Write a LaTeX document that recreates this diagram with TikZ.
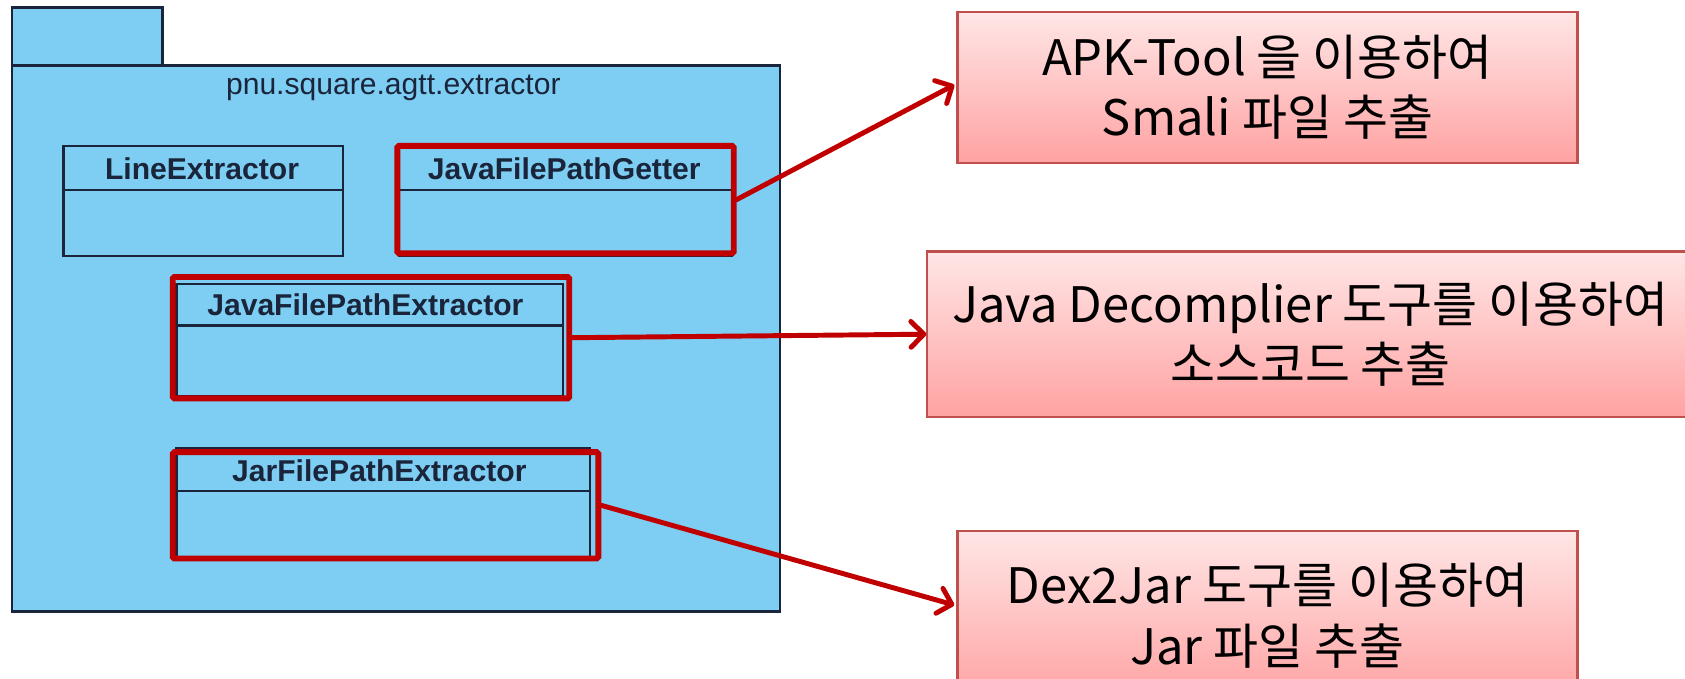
\documentclass[tikz,border=0pt]{standalone}
\usepackage{fontspec}
\setmainfont{Liberation Sans}
\newfontfamily\kr{Noto Sans CJK KR}
\usetikzlibrary{arrows.meta}
\definecolor{pkgblue}{RGB}{125,206,242}
\definecolor{navy}{RGB}{26,36,58}
\definecolor{hl}{RGB}{192,0,0}
\definecolor{pinkline}{RGB}{192,80,77}
\definecolor{pinktop}{RGB}{255,230,230}
\definecolor{pinkbot}{RGB}{255,162,162}
\tikzset{
  pkgshape/.style={rectangle, draw=navy, line width=2.2pt, fill=pkgblue, inner sep=0pt, anchor=north west},
  umlclass/.style={rectangle, draw=navy, line width=2.2pt, inner sep=0pt, anchor=north west},
  clsname/.style={font=\bfseries\fontsize{28}{32}\selectfont, text=navy, inner sep=0pt},
  divider/.style={draw=navy, line width=2.2pt},
  hlbox/.style={rectangle, draw=hl, line width=5.5pt, rounded corners=1.5pt, inner sep=0pt, anchor=north west},
  tipbox/.style={rectangle, draw=pinkline, line width=2pt, top color=pinktop, bottom color=pinkbot, inner sep=0pt, anchor=north west, align=center, font=\kr\fontsize{45.5}{56}\selectfont, text=black},
  hlarrow/.style={draw=hl, line width=4.6pt, line cap=round, -{Straight Barb[length=12pt,width=24pt,line cap=round,line join=round]}}
}
\begin{document}
\begin{tikzpicture}[x=1pt,y=-1pt]
\useasboundingbox (0,0) rectangle (1568,631);
% package
\node[pkgshape, minimum width=140, minimum height=54] (tab) at (10,6) {};
\node[pkgshape, minimum width=715, minimum height=508] (pkg) at (10,60) {};
\node[font=\fontsize{28}{32}\selectfont, text=navy, inner sep=0pt] (pkgname) at (366,82) {pnu.square.agtt.extractor};
% classes
\node[umlclass, minimum width=260, minimum height=102] (le) at (58,135) {};
\draw[divider] (le.west |- 0,177) -- (le.east |- 0,177);
\node[clsname] (leN) at (188,157) {LineExtractor};

\node[umlclass, minimum width=310, minimum height=102] (jfpg) at (370,135) {};
\draw[divider] (jfpg.west |- 0,177) -- (jfpg.east |- 0,177);
\node[clsname] (jfpgN) at (525,157) {JavaFilePathGetter};

\node[umlclass, minimum width=360, minimum height=105] (jfpe) at (163,263) {};
\draw[divider] (jfpe.west |- 0,303) -- (jfpe.east |- 0,303);
\node[clsname] (jfpeN) at (340,284) {JavaFilePathExtractor};

\node[umlclass, minimum width=385, minimum height=103] (jar) at (163,416) {};
\draw[divider] (jar.west |- 0,457) -- (jar.east |- 0,457);
\node[clsname] (jarN) at (353,438) {JarFilePathExtractor};
% highlights
\node[hlbox, minimum width=313, minimum height=100] (jfpgR) at (367,133) {};
\node[hlbox, minimum width=369, minimum height=113] (jfpeR) at (158,255) {};
\node[hlbox, minimum width=396, minimum height=99] (jarR) at (158,418) {};
% tool boxes
\node[tipbox, minimum width=577, minimum height=141] (apk) at (890,10) {APK-Tool 을 이용하여\\Smali 파일 추출};
\node[tipbox, minimum width=713, minimum height=154] (jd) at (862,233) {Java Decomplier 도구를 이용하여\\소스코드 추출};
\node[tipbox, minimum width=577, minimum height=158] (dex) at (890,493) {Dex2Jar 도구를 이용하여\\Jar 파일 추출};
\coordinate (dexin) at (888,563);
\coordinate (apkin) at (888,79);
% arrows
\draw[hlarrow] (jfpgR.east) -- (apkin);
\draw[hlarrow] (jfpeR.east) -- (jd.west);
\draw[hlarrow] (jarR.east) -- (dexin);
\end{tikzpicture}
\end{document}
